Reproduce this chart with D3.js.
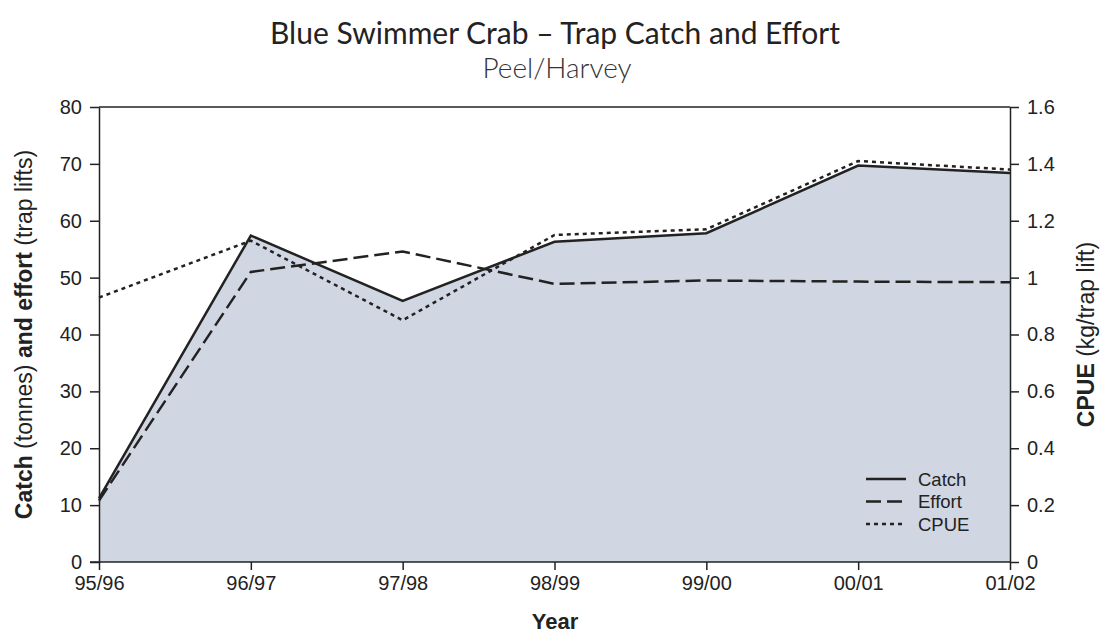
<!DOCTYPE html>
<html><head><meta charset="utf-8">
<script src="https://cdn.jsdelivr.net/npm/d3@7"></script>
<style>body{margin:0;background:#fff}svg{display:block}</style>
</head><body>
<svg id="c" width="1100" height="635"></svg>
<script>
const years = ["95/96","96/97","97/98","98/99","99/00","00/01","01/02"];
const catchT = [11.2, 57.4, 45.9, 56.3, 57.8, 69.7, 68.4];
const effort = [10.8, 51.0, 54.6, 48.9, 49.5, 49.3, 49.2];
const cpue = [0.93, 1.13, 0.85, 1.15, 1.17, 1.41, 1.38];
const leftTicks = [0,10,20,30,40,50,60,70,80];
const rightTicks = [0,0.2,0.4,0.6,0.8,1,1.2,1.4,1.6];

const svg = d3.select("#c");
const L=99, R=1010, T=107, B=562;
const x = d3.scalePoint().domain(years).range([L,R]);
const y = d3.scaleLinear().domain([0,80]).range([B,T]);
const y2 = d3.scaleLinear().domain([0,1.6]).range([B,T]);
const sans = "'Liberation Sans', Arial, sans-serif";

// area
svg.append("path").datum(catchT.map((v,i)=>[years[i],v]))
  .attr("fill","#d0d6e2")
  .attr("d", d3.area().x(d=>x(d[0])).y0(B).y1(d=>y(d[1])));

// frame top
svg.append("line").attr("x1",L).attr("x2",R).attr("y1",T).attr("y2",T).attr("stroke","#222").attr("stroke-width",1.5);

const ln = d3.line().x(d=>x(d[0])).y(d=>d[1]);
svg.append("path").datum(effort.map((v,i)=>[years[i],y(v)])).attr("d",ln)
  .attr("fill","none").attr("stroke","#222").attr("stroke-width",2.5).attr("stroke-dasharray","15,6");
svg.append("path").datum(cpue.map((v,i)=>[years[i],y2(v)])).attr("d",ln)
  .attr("fill","none").attr("stroke","#222").attr("stroke-width",2.5).attr("stroke-dasharray","4,4");
svg.append("path").datum(catchT.map((v,i)=>[years[i],y(v)])).attr("d",ln)
  .attr("fill","none").attr("stroke","#222").attr("stroke-width",2.5).attr("stroke-linejoin","miter");

function styleAxis(g){
  g.selectAll("path").attr("stroke","#222").attr("stroke-width",1.5);
  g.selectAll("line").attr("stroke","#222").attr("stroke-width",1.5);
  g.selectAll("text").attr("font-family",sans).attr("font-size",20).attr("fill","#222");
}
const gl = svg.append("g").attr("transform",`translate(${L},0)`)
  .call(d3.axisLeft(y).tickValues(leftTicks).tickSize(9).tickSizeOuter(0).tickPadding(8));
styleAxis(gl);
const gr = svg.append("g").attr("transform",`translate(${R},0)`)
  .call(d3.axisRight(y2).tickValues(rightTicks).tickFormat(d=>d3.format("")(+d.toFixed(1))).tickSize(9).tickSizeOuter(0).tickPadding(8));
styleAxis(gr);
const gx = svg.append("g").attr("transform",`translate(0,${B})`)
  .call(d3.axisBottom(x).tickSize(8).tickSizeOuter(0).tickPadding(6));
styleAxis(gx);
gx.select("path").attr("d",`M${L-9},0H${R}`);

// titles
svg.append("text").attr("x",555).attr("y",44).attr("text-anchor","middle")
  .attr("font-family","Lato, 'Open Sans', sans-serif").attr("font-size",30).attr("fill","#222")
  .text("Blue Swimmer Crab – Trap Catch and Effort");
svg.append("text").attr("x",557).attr("y",78).attr("text-anchor","middle")
  .attr("font-family","Lato, 'Open Sans', sans-serif").attr("font-weight",300).attr("font-size",28).attr("fill","#333")
  .text("Peel/Harvey");

svg.append("text").attr("x",555).attr("y",629).attr("text-anchor","middle")
  .attr("font-family",sans).attr("font-weight","bold").attr("font-size",22).attr("fill","#222").text("Year");

const yl = svg.append("text").attr("transform",`translate(32,${(T+B)/2}) rotate(-90)`).attr("text-anchor","middle")
  .attr("font-family",sans).attr("font-size",23).attr("fill","#222");
yl.append("tspan").attr("font-weight","bold").text("Catch");
yl.append("tspan").text(" (tonnes) ");
yl.append("tspan").attr("font-weight","bold").text("and effort");
yl.append("tspan").text(" (trap lifts)");

const yr = svg.append("text").attr("transform",`translate(1094,${(T+B)/2}) rotate(-90)`).attr("text-anchor","middle")
  .attr("font-family",sans).attr("font-size",23).attr("fill","#222");
yr.append("tspan").attr("font-weight","bold").text("CPUE");
yr.append("tspan").text(" (kg/trap lift)");

// legend
const legend = [["Catch",null],["Effort","15,6"],["CPUE","4,4"]];
legend.forEach((d,i)=>{
  const ly = 479 + i*22.5;
  const l = svg.append("line").attr("x1",866).attr("x2",906).attr("y1",ly).attr("y2",ly)
    .attr("stroke","#222").attr("stroke-width",2.5);
  if(d[1]) l.attr("stroke-dasharray",d[1]);
  svg.append("text").attr("x",918).attr("y",ly+6.5).attr("font-family",sans).attr("font-size",18.5).attr("fill","#222").text(d[0]);
});
</script>
</body></html>
